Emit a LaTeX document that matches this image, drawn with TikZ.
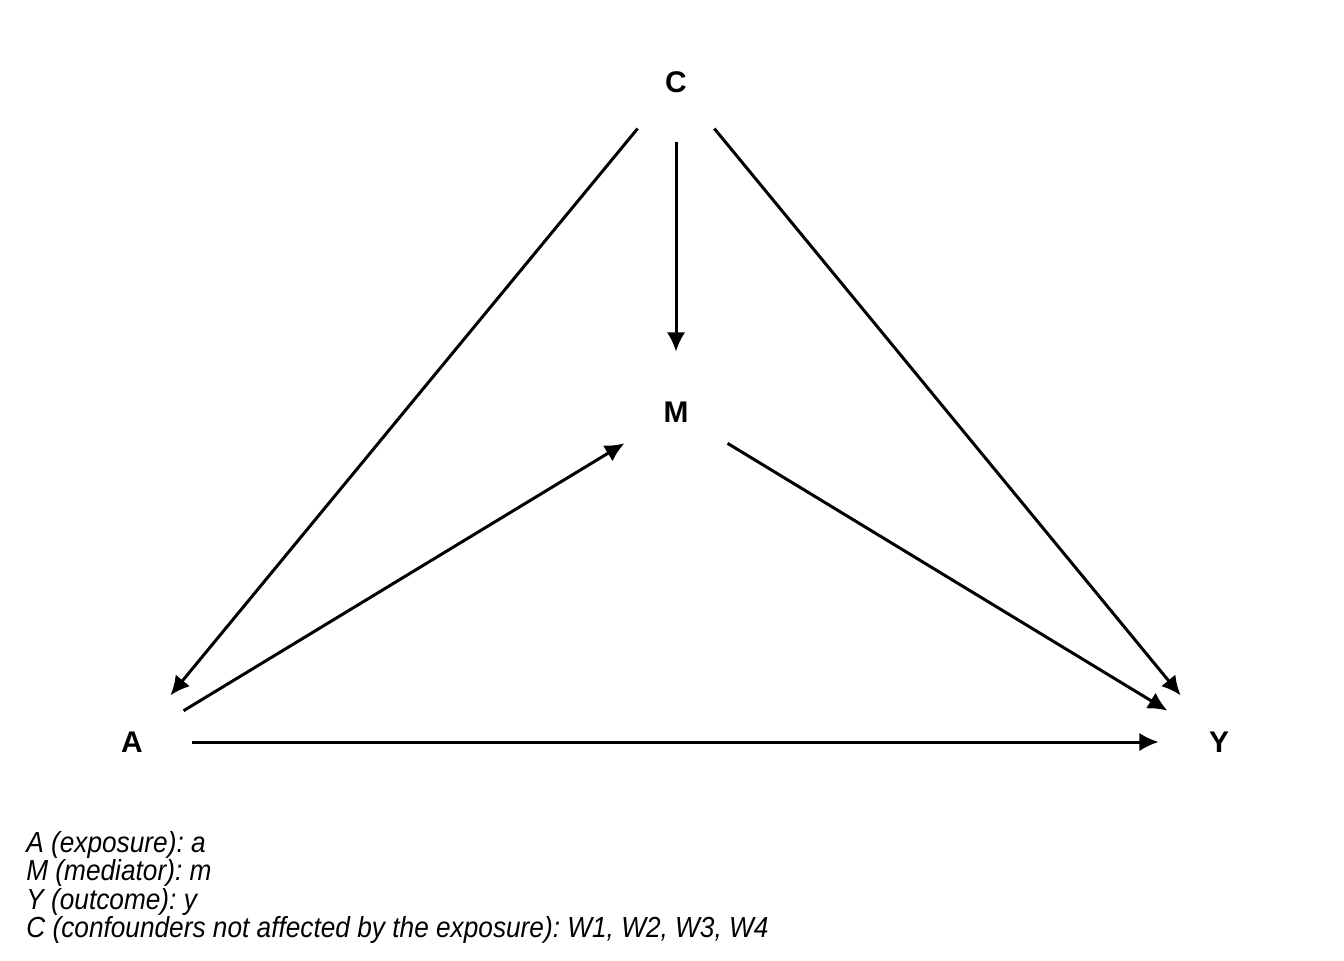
\documentclass[tikz,border=0pt]{standalone}
\usepackage{fontspec}
\setmainfont{Liberation Sans}
\newfontfamily\legendfont[FakeStretch=0.905]{Liberation Sans}
\usetikzlibrary{arrows.meta}

\begin{document}
\frenchspacing
\begin{tikzpicture}[x=0.02cm,y=-0.02cm,
    var/.style={circle,minimum size=2.4cm,inner sep=0pt,font=\fontsize{17}{20}\selectfont\bfseries},
    edge/.style={line width=1.7pt,-{Latex[length=11pt,width=10.5pt]}},
    legend/.style={anchor=base west,inner sep=0pt,font=\legendfont\fontsize{16.5}{18}\selectfont\itshape}]
  \useasboundingbox (0,0) rectangle (1344,960);

  \node[var] (C) at (676,82) {C};
  \node[var] (M) at (676,412) {M};
  \node[var] (A) at (132,742) {A};
  \node[var] (Y) at (1219,742) {Y};

  \draw[edge] (C) -- (A);
  \draw[edge] (C) -- (M);
  \draw[edge] (C) -- (Y);
  \draw[edge] (A) -- (M);
  \draw[edge] (M) -- (Y);
  \draw[edge] (A) -- (Y);

  \node[legend] (legA) at (26,852) {A (exposure): a};
  \node[legend] (legM) at (26,880) {M (mediator): m};
  \node[legend] (legY) at (26,909) {Y (outcome): y};
  \node[legend] (legC) at (26,937) {C (confounders not affected by the exposure): W1, W2, W3, W4};
\end{tikzpicture}
\end{document}
